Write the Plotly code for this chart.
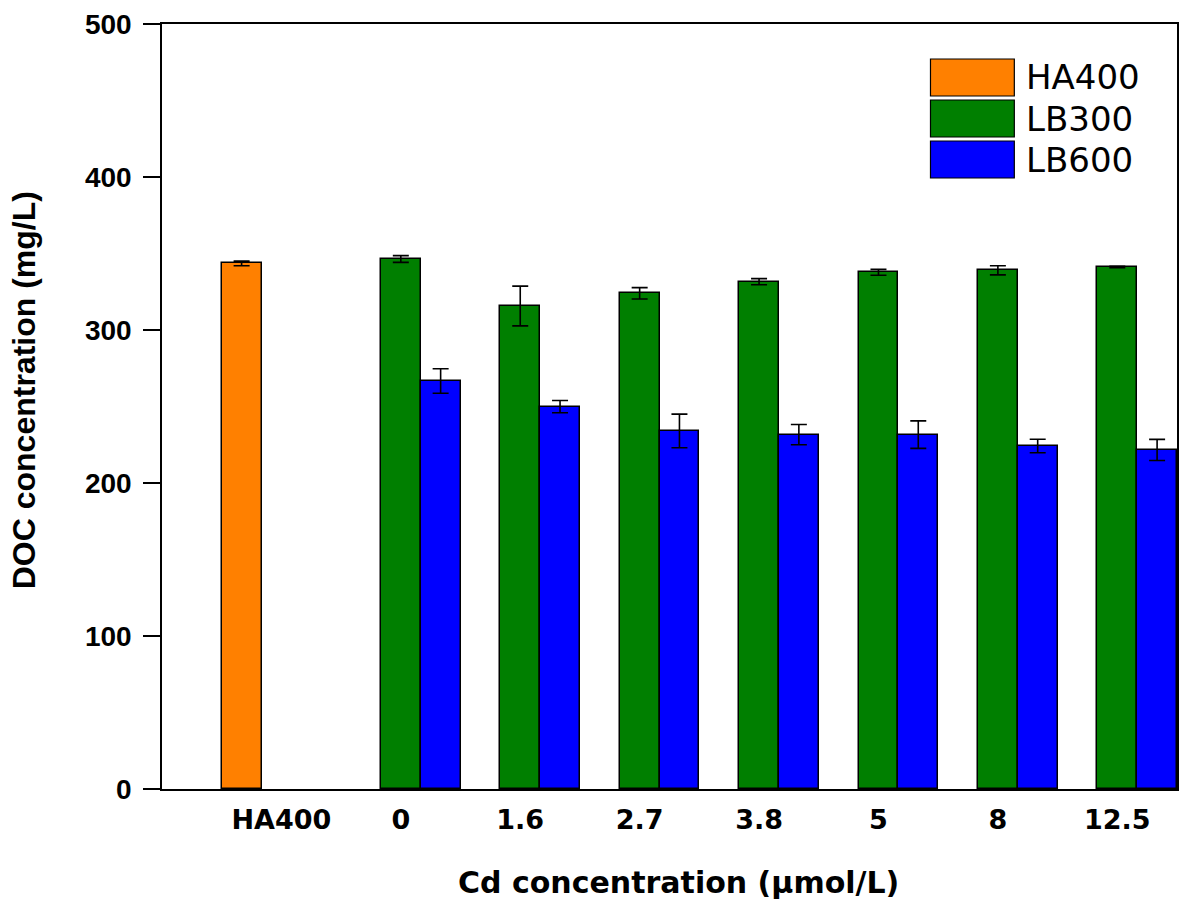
import plotly.graph_objects as go

# Categories on the x axis
categories = ["HA400", "0", "1.6", "2.7", "3.8", "5", "8", "12.5"]
cd_levels = ["0", "1.6", "2.7", "3.8", "5", "8", "12.5"]

# DOC concentration (mg/L), mean and error
ha400_value = [343.5]
ha400_error = [1.5]

lb300_values = [346.4, 315.7, 324.0, 331.6, 337.7, 339.0, 341.2]
lb300_errors = [2.2, 13.0, 3.7, 2.0, 1.9, 3.0, 0.5]

lb600_values = [266.7, 249.9, 234.0, 231.6, 231.6, 224.2, 221.6]
lb600_errors = [8.0, 4.0, 11.0, 6.6, 9.0, 4.4, 6.9]

series_names = ["HA400", "LB300", "LB600"]
series_colors = ["#FF8000", "#007F00", "#0000FF"]

y_ticks = [0, 100, 200, 300, 400, 500]

FONT = "Arial, Liberation Sans, sans-serif"
WIDE = "DejaVu Sans, sans-serif"
BLACK = "#000000"


def err(values):
    return dict(type="data", array=values, visible=True,
                color=BLACK, thickness=1.6, width=8)


fig = go.Figure()
fig.add_trace(go.Bar(x=["HA400"], y=ha400_value, name=series_names[0],
                     marker=dict(color=series_colors[0],
                                 line=dict(color=BLACK, width=1.5)),
                     error_y=err(ha400_error)))
fig.add_trace(go.Bar(x=cd_levels, y=lb300_values, name=series_names[1],
                     marker=dict(color=series_colors[1],
                                 line=dict(color=BLACK, width=1.5)),
                     error_y=err(lb300_errors)))
fig.add_trace(go.Bar(x=cd_levels, y=lb600_values, name=series_names[2],
                     marker=dict(color=series_colors[2],
                                 line=dict(color=BLACK, width=1.5)),
                     error_y=err(lb600_errors)))

# Plot area in pixels
W, H = 1184, 904
L, R, T, B = 162, 5, 24, 115
pw, ph = W - L - R, H - T - B


def px_x(x):
    return (x - L) / pw


def px_y(y):
    return (H - B - y) / ph


# Legend drawn as large colour patches with labels
shapes = []
annotations = []
top0, patch_h, step = 59, 37, 41
for i, (name, color) in enumerate(zip(series_names, series_colors)):
    y0 = top0 + i * step
    shapes.append(dict(type="rect", xref="paper", yref="paper",
                       x0=px_x(932), x1=px_x(1016),
                       y0=px_y(y0 + patch_h), y1=px_y(y0),
                       fillcolor=color, line=dict(color=BLACK, width=1.2)))
    annotations.append(dict(xref="paper", yref="paper",
                            x=px_x(1026), y=px_y(y0 + patch_h / 2),
                            xanchor="left", yanchor="middle", showarrow=False,
                            text=name,
                            font=dict(family=WIDE, size=34, color=BLACK)))

# Axis titles
annotations.append(dict(xref="paper", yref="paper",
                        x=px_x(24), y=px_y(390), xanchor="center",
                        yanchor="middle", textangle=-90, showarrow=False,
                        text="<b>DOC concentration (mg/L)</b>",
                        font=dict(family=FONT, size=32, color=BLACK)))
annotations.append(dict(xref="paper", yref="paper",
                        x=px_x(680), y=px_y(882), xanchor="center",
                        yanchor="middle", showarrow=False,
                        text="<b>Cd concentration (μmol/L)</b>",
                        font=dict(family=WIDE, size=30, color=BLACK)))

fig.update_layout(
    width=W, height=H,
    margin=dict(l=L, r=R, t=T, b=B, pad=0),
    paper_bgcolor="white", plot_bgcolor="white",
    barmode="group", bargap=0, bargroupgap=0,
    showlegend=False,
    shapes=shapes, annotations=annotations,
    font=dict(family=FONT, color=BLACK),
    xaxis=dict(type="category", categoryorder="array",
               categoryarray=categories, range=[-1, 7.5],
               showline=True, linecolor=BLACK, linewidth=1.6, mirror=True,
               ticks="", showgrid=False, zeroline=False,
               tickfont=dict(family=WIDE, size=27, color=BLACK, weight="bold"),
               ticklabelstandoff=6),
    yaxis=dict(range=[0, 500], tickvals=y_ticks,
               showline=True, linecolor=BLACK, linewidth=1.6, mirror=True,
               ticks="outside", ticklen=17, tickwidth=1.6, tickcolor=BLACK,
               showgrid=False, zeroline=False,
               tickfont=dict(family=FONT, size=28, color=BLACK, weight="bold"),
               ticklabelstandoff=6),
)

fig.write_html("out.html")
